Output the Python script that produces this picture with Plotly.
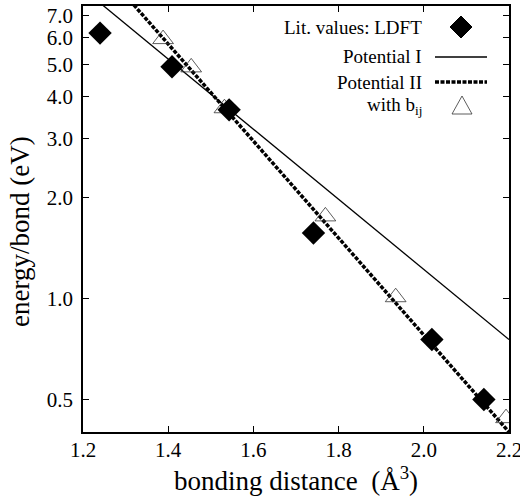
import plotly.graph_objects as go

# ---- data ----
ldft_x = [1.24, 1.409, 1.543, 1.741, 2.019, 2.141]
ldft_y = [6.2, 4.92, 3.66, 1.57, 0.755, 0.50]

bij_x = [1.388, 1.454, 1.532, 1.769, 1.934, 2.193]
bij_y = [5.95, 4.9, 3.7, 1.76, 1.01, 0.44]

pot1_x = [1.2, 2.2]
pot1_y = [8.4, 0.755]

pot2_x = [1.2, 2.2]
pot2_y = [11.2, 0.40]

y_ticks = [0.5, 1.0, 2.0, 3.0, 4.0, 5.0, 6.0, 7.0]
y_ticktext = ["0.5", "1.0", "2.0", "3.0", "4.0", "5.0", "6.0", "7.0"]
x_ticks = [1.2, 1.4, 1.6, 1.8, 2.0, 2.2]
x_ticktext = ["1.2", "1.4", "1.6", "1.8", "2.0", "2.2"]

FONT = "Liberation Serif"

fig = go.Figure()
fig.add_trace(go.Scatter(x=pot1_x, y=pot1_y, mode="lines",
                         line=dict(color="black", width=1.3), name="Potential I"))
fig.add_trace(go.Scatter(x=pot2_x, y=pot2_y, mode="lines",
                         line=dict(color="black", width=3.5, dash="4px,1.5px"),
                         name="Potential II"))
fig.add_trace(go.Scatter(x=bij_x, y=bij_y, mode="markers",
                         marker=dict(symbol="triangle-up-open", size=18,
                                     color="#333", line=dict(width=0.8)),
                         name="with b_ij"))
fig.add_trace(go.Scatter(x=ldft_x, y=ldft_y, mode="markers",
                         marker=dict(symbol="diamond", size=18, color="black"),
                         name="Lit. values: LDFT"))

# plot area in pixels: left 83, right 509, top 6, bottom 432
L, R, T, B = 83, 509, 6, 432
def px(x):
    return (x - L) / (R - L)
def py(y):
    return (B - y) / (B - T)

ann_font = dict(family=FONT, size=19, color="black")
rows = [("Lit. values: LDFT", 27), ("Potential I", 57), ("Potential II", 82),
        ("with b<sub>ij</sub>", 106)]
annotations = []
for txt, yy in rows:
    annotations.append(dict(text=txt, x=px(424), y=py(yy), xref="paper", yref="paper",
                            xanchor="right", yanchor="middle", showarrow=False,
                            font=ann_font))
# y-axis title
annotations.append(dict(text="energy/bond (eV)", x=px(20), y=py(232),
                        xref="paper", yref="paper", xanchor="center", yanchor="middle",
                        textangle=-90, showarrow=False,
                        font=dict(family=FONT, size=27, color="black")))

shapes = [
    # Potential I key
    dict(type="line", xref="paper", yref="paper", x0=px(435), x1=px(487),
         y0=py(57), y1=py(57), line=dict(color="black", width=1.3)),
    # Potential II key
    dict(type="line", xref="paper", yref="paper", x0=px(435), x1=px(487),
         y0=py(82), y1=py(82), line=dict(color="black", width=3.5, dash="4px,1.5px")),
    # diamond key
    dict(type="path", xref="paper", yref="paper", xsizemode="pixel", ysizemode="pixel",
         xanchor=px(461), yanchor=py(27), path="M -11 0 L 0 11 L 11 0 L 0 -11 Z",
         fillcolor="black", line=dict(color="black", width=1)),
    # triangle key
    dict(type="path", xref="paper", yref="paper", xsizemode="pixel", ysizemode="pixel",
         xanchor=px(462), yanchor=py(106), path="M -10 -8 L 10 -8 L 0 10 Z",
         fillcolor="rgba(0,0,0,0)", line=dict(color="#333", width=0.8)),
]

axis_common = dict(showline=True, linecolor="black", linewidth=1.5, mirror="ticks",
                   ticks="inside", ticklen=6, tickwidth=1.2, tickcolor="black",
                   showgrid=False, zeroline=False, automargin=False,
                   ticklabeloverflow="allow",
                   tickfont=dict(family=FONT, size=21, color="black"))

fig.update_layout(
    width=520, height=499,
    margin=dict(l=L, r=520 - R, t=T, b=499 - B),
    paper_bgcolor="white", plot_bgcolor="white",
    showlegend=False,
    font=dict(family=FONT),
    xaxis=dict(range=[1.2, 2.2], tickvals=x_ticks, ticktext=x_ticktext,
               ticklabelstandoff=-2,
               title=dict(text="bonding distance  (Å<sup>3</sup>)",
                          font=dict(family=FONT, size=27, color="black"), standoff=8),
               **axis_common),
    yaxis=dict(type="log", range=[0.6021 - 1, 0.8733], tickvals=y_ticks,
               ticktext=y_ticktext, ticklabelstandoff=4,
               **axis_common),
    annotations=annotations,
    shapes=shapes,
)

fig.write_html("out.html",
               config=dict(displayModeBar=False, responsive=False),
               post_script="document.body.style.margin='0';document.body.style.overflow='hidden';")
